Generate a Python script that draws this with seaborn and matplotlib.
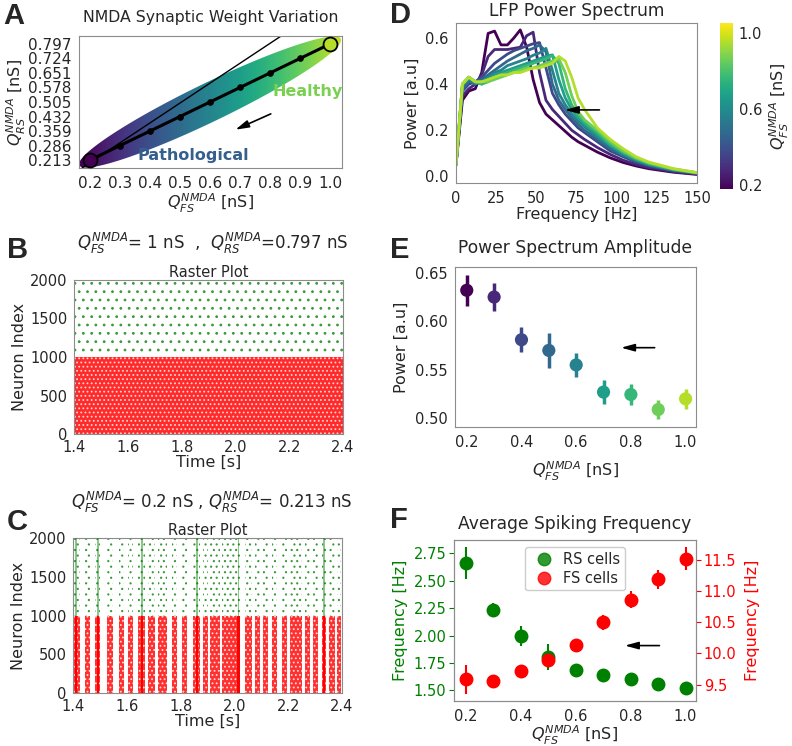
import numpy as np
import pandas as pd
import matplotlib
matplotlib.use("Agg")
import matplotlib.pyplot as plt
import seaborn as sns
from matplotlib.colors import Normalize
from matplotlib.patches import Polygon, Rectangle
from matplotlib.cm import ScalarMappable
from matplotlib.lines import Line2D

# NMDA synaptic weights [nS]
q_fs = [0.2, 0.3, 0.4, 0.5, 0.6, 0.7, 0.8, 0.9, 1.0]
q_rs = [0.213, 0.286, 0.359, 0.432, 0.505, 0.578, 0.651, 0.724, 0.797]

# LFP power spectra, one curve per Q_FS value
freq_hz = [0, 4, 8, 12, 16, 20, 24, 28, 32, 36, 40, 44, 48, 52, 56, 60, 64, 68,
           72, 76, 80, 88, 96, 104, 112, 120, 135, 150]
psd_02 = [0.05, 0.33, 0.37, 0.38, 0.45, 0.62, 0.63, 0.57, 0.57, 0.60, 0.635, 0.56, 0.42, 0.32,
          0.27, 0.245, 0.22, 0.195, 0.17, 0.15, 0.135, 0.105, 0.08, 0.06, 0.045, 0.033, 0.018, 0.008]
psd_03 = [0.05, 0.35, 0.38, 0.40, 0.44, 0.52, 0.55, 0.55, 0.55, 0.555, 0.56, 0.61, 0.625, 0.45,
          0.33, 0.29, 0.26, 0.23, 0.20, 0.18, 0.16, 0.125, 0.095, 0.07, 0.052, 0.038, 0.021, 0.010]
psd_04 = [0.05, 0.37, 0.40, 0.41, 0.43, 0.46, 0.49, 0.51, 0.53, 0.545, 0.555, 0.565, 0.575, 0.58,
          0.47, 0.36, 0.31, 0.27, 0.24, 0.21, 0.19, 0.15, 0.11, 0.085, 0.062, 0.045, 0.025, 0.012]
psd_05 = [0.05, 0.38, 0.41, 0.41, 0.42, 0.44, 0.46, 0.48, 0.50, 0.515, 0.53, 0.545, 0.555, 0.57,
          0.54, 0.40, 0.33, 0.29, 0.255, 0.225, 0.20, 0.16, 0.12, 0.09, 0.067, 0.048, 0.027, 0.013]
psd_06 = [0.05, 0.39, 0.42, 0.40, 0.41, 0.43, 0.45, 0.46, 0.48, 0.49, 0.50, 0.51, 0.525, 0.535,
          0.555, 0.46, 0.36, 0.31, 0.27, 0.24, 0.215, 0.17, 0.13, 0.095, 0.07, 0.051, 0.028, 0.014]
psd_07 = [0.05, 0.40, 0.43, 0.41, 0.40, 0.42, 0.44, 0.45, 0.46, 0.47, 0.48, 0.49, 0.50, 0.51,
          0.52, 0.527, 0.42, 0.34, 0.29, 0.255, 0.225, 0.18, 0.135, 0.10, 0.073, 0.053, 0.029, 0.015]
psd_08 = [0.05, 0.40, 0.43, 0.41, 0.40, 0.41, 0.43, 0.44, 0.45, 0.46, 0.47, 0.48, 0.49, 0.50,
          0.51, 0.524, 0.49, 0.38, 0.31, 0.265, 0.235, 0.19, 0.14, 0.105, 0.077, 0.056, 0.031, 0.015]
psd_09 = [0.05, 0.40, 0.43, 0.41, 0.41, 0.41, 0.42, 0.43, 0.44, 0.45, 0.46, 0.47, 0.47, 0.48,
          0.49, 0.50, 0.51, 0.45, 0.35, 0.28, 0.245, 0.20, 0.15, 0.11, 0.08, 0.058, 0.032, 0.016]
psd_10 = [0.05, 0.40, 0.43, 0.41, 0.41, 0.42, 0.43, 0.44, 0.44, 0.45, 0.45, 0.46, 0.47, 0.47,
          0.48, 0.49, 0.52, 0.50, 0.43, 0.34, 0.29, 0.21, 0.16, 0.12, 0.085, 0.062, 0.034, 0.016]

# peak of the power spectrum
peak_power = [0.632, 0.625, 0.581, 0.570, 0.555, 0.527, 0.5245, 0.509, 0.520]
peak_err = [0.016, 0.014, 0.013, 0.018, 0.012, 0.0125, 0.011, 0.010, 0.0105]

# average spiking frequency
rs_rate = [2.658, 2.237, 1.996, 1.804, 1.689, 1.637, 1.601, 1.555, 1.521]
rs_err = [0.146, 0.061, 0.088, 0.116, 0.03, 0.03, 0.03, 0.03, 0.03]
fs_rate = [9.585, 9.553, 9.714, 9.891, 10.13, 10.50, 10.86, 11.19, 11.52]
fs_err = [0.236, 0.06, 0.10, 0.107, 0.107, 0.12, 0.134, 0.155, 0.188]

# raster plots: population index ranges, time window, population bursts (pathological case)
raster_window = [1.4, 2.4]
fs_index = [0, 1000]
rs_index = [1000, 2000]
burst_time = [1.412, 1.455, 1.492, 1.538, 1.579, 1.615, 1.656, 1.693, 1.734, 1.777, 1.814,
              1.860, 1.893, 1.929, 1.982, 2.015, 2.053, 2.087, 2.116, 2.149, 2.186, 2.230,
              2.273, 2.302, 2.333, 2.364, 2.390]
burst_width = [0.025, 0.018, 0.019, 0.025, 0.018, 0.018, 0.026, 0.026, 0.034, 0.019, 0.019,
               0.026, 0.019, 0.038, 0.056, 0.012, 0.024, 0.018, 0.019, 0.018, 0.019, 0.043,
               0.018, 0.019, 0.014, 0.022, 0.016]
strong_bursts = [1.412, 1.492, 1.656, 1.860, 2.015, 2.333]

sns.set_style("white", {"axes.edgecolor": "0.55"})
plt.rcParams["mathtext.fontset"] = "dejavusans"
plt.rcParams["hatch.linewidth"] = 0.8

fig = plt.figure(figsize=(7.92, 7.46), dpi=100)
W, H = 792.0, 746.0


def box(l, t, r, b):
    return [l / W, 1 - b / H, (r - l) / W, (b - t) / H]


cmap = plt.get_cmap("viridis")
norm = Normalize(0.2, 1.1)
cbar_norm = Normalize(0.18, 1.05)
arrow = dict(arrowstyle="-|>,head_length=0.8,head_width=0.22", color="black", lw=1.2)

# ---------------- A ----------------
axA = fig.add_axes(box(79, 36, 342, 168))
axA.set_xlim(0.163, 1.04)
axA.set_ylim(0.173, 0.837)
p0 = axA.transData.transform((q_fs[0], q_rs[0]))
p1 = axA.transData.transform((q_fs[-1], q_rs[-1]))
c = (p0 + p1) / 2
d = np.linalg.norm(p1 - p0)
u = (p1 - p0) / d
n = np.array([-u[1], u[0]])
th = np.linspace(0, 2 * np.pi, 300)
pts = c + np.outer(np.cos(th) * d * 0.545, u) + np.outer(np.sin(th) * d * 0.072, n)
pts = axA.transAxes.inverted().transform(pts)
lens = Polygon(pts, closed=True, transform=axA.transAxes, facecolor="none", edgecolor="none")
axA.add_patch(lens)
grad = np.linspace(0.163, 1.04, 256)[None, :]
im = axA.imshow(grad, cmap="viridis", norm=Normalize(0.17, 1.12), extent=[0.163, 1.04, 0.173, 0.837],
                aspect="auto", origin="lower", zorder=1)
im.set_clip_path(lens)
axA.axline((0, 0), slope=1, color="black", lw=1, zorder=2)
sns.lineplot(x=q_fs, y=q_rs, ax=axA, color="black", lw=2.2, marker="o", ms=4, mec="black", zorder=3)
for i in (0, -1):
    axA.plot(q_fs[i], q_rs[i], "o", ms=10, mfc=cmap(norm(q_fs[i])), mec="black", mew=1.3, zorder=4)
axA.set_xlim(0.163, 1.04)
axA.set_ylim(0.173, 0.837)
axA.set_xticks(q_fs)
axA.set_xticklabels([f"{q:.1f}" for q in q_fs])
axA.set_yticks(q_rs)
axA.set_yticklabels([f"{q:.3f}" for q in q_rs])
axA.tick_params(labelsize=11, pad=2)
axA.set_xlabel(r"$Q_{FS}^{NMDA}$ [nS]", fontsize=11.5, labelpad=1)
axA.set_ylabel(r"$Q_{RS}^{NMDA}$ [nS]", fontsize=11.5, labelpad=0)
axA.set_title("NMDA Synaptic Weight Variation", fontsize=11.3, pad=10)
axA.text(0.927, 0.557, "Healthy", color="#7ad151", fontsize=11.5, fontweight="bold", ha="center", va="center")
axA.text(0.543, 0.238, "Pathological", color="#35608d", fontsize=11.5, fontweight="bold", ha="center", va="center")
axA.annotate("", xy=(0.676, 0.360), xytext=(0.811, 0.451), arrowprops=arrow)


# ---------------- B and C (raster plots) ----------------
def raster_axes(rect, header, header_y):
    ax = fig.add_axes(box(*rect))
    ax.set_xlim(*raster_window)
    ax.set_ylim(fs_index[0], rs_index[1])
    ax.set_xticks([1.4, 1.6, 1.8, 2.0, 2.2, 2.4])
    ax.set_yticks([0, 500, 1000, 1500, 2000])
    ax.tick_params(labelsize=10.5, pad=1)
    ax.set_title("Raster Plot", fontsize=10.5, pad=2)
    ax.set_ylabel("Neuron Index", fontsize=11.5, labelpad=2)
    ax.set_xlabel("Time [s]", fontsize=11.5, labelpad=0)
    fig.text((rect[0] + rect[2]) / 2 / W + 0.005, 1 - header_y / H, header, fontsize=12,
             ha="center", va="center")
    return ax


t0, t1 = raster_window
axB = raster_axes((74, 280, 343, 434), r"$Q_{FS}^{NMDA}$= 1 nS  ,  $Q_{RS}^{NMDA}$=0.797 nS", 243)
axB.add_patch(Rectangle((t0, fs_index[0]), t1 - t0, fs_index[1] - fs_index[0], facecolor="#ff2a2a",
                        edgecolor="#ffd0d0", hatch="....", lw=0, zorder=1))
axB.add_patch(Rectangle((t0, rs_index[0]), t1 - t0, rs_index[1] - rs_index[0], facecolor="white",
                        edgecolor="#3a9a3a", hatch="..", lw=0, zorder=1))

axC = raster_axes((73, 538, 342, 693), r"$Q_{FS}^{NMDA}$= 0.2 nS , $Q_{RS}^{NMDA}$= 0.213 nS", 502)
for t, w in zip(burst_time, burst_width):
    axC.add_patch(Rectangle((t - w / 2, fs_index[0]), w, fs_index[1] - fs_index[0], facecolor="#ff3030",
                            edgecolor="#ffd8d8", hatch="....", lw=0, zorder=2))
    axC.add_patch(Rectangle((t - w / 2, rs_index[0]), w, rs_index[1] - rs_index[0], facecolor="white",
                            edgecolor="#3a9a3a", hatch="...", lw=0, zorder=2))
for t in strong_bursts:
    axC.add_patch(Rectangle((t - 0.004, fs_index[0]), 0.008, fs_index[1] - fs_index[0],
                            facecolor="red", lw=0, zorder=3))
    axC.add_patch(Rectangle((t - 0.003, rs_index[0]), 0.006, rs_index[1] - rs_index[0],
                            facecolor="green", alpha=0.45, lw=0, zorder=3))

# ---------------- D ----------------
axD = fig.add_axes(box(456, 23, 697, 183))
curves = [psd_02, psd_03, psd_04, psd_05, psd_06, psd_07, psd_08, psd_09, psd_10]
dfD = pd.DataFrame({
    "freq": np.tile(freq_hz, len(q_fs)),
    "power": np.concatenate(curves),
    "q": np.repeat(q_fs, len(freq_hz)),
})
sns.lineplot(data=dfD, x="freq", y="power", hue="q", palette="viridis", hue_norm=norm,
             lw=2, legend=False, ax=axD, sort=False)
axD.set_xlim(0, 150)
axD.set_ylim(-0.029, 0.665)
axD.set_xticks([0, 25, 50, 75, 100, 125, 150])
axD.set_yticks([0.0, 0.2, 0.4, 0.6])
axD.tick_params(labelsize=10.5, pad=2)
axD.set_xlabel("Frequency [Hz]", fontsize=11.5, labelpad=1)
axD.set_ylabel("Power [a.u]", fontsize=11.5, labelpad=4)
axD.set_title("LFP Power Spectrum", fontsize=12.3, pad=5)
axD.annotate("", xy=(66, 0.288), xytext=(91, 0.288), arrowprops=arrow)
cax = fig.add_axes(box(720, 23, 733, 189))
cb = fig.colorbar(ScalarMappable(norm=cbar_norm, cmap=cmap), cax=cax, ticks=[0.2, 0.6, 1.0])
cb.outline.set_visible(False)
cb.ax.tick_params(labelsize=10.5, length=0, pad=4)
cb.set_label(r"$Q_{FS}^{NMDA}$ [nS]", fontsize=11.5, labelpad=4)

# ---------------- E ----------------
axE = fig.add_axes(box(455, 267, 696, 427))
for q, p, e in zip(q_fs, peak_power, peak_err):
    axE.errorbar(q, p, yerr=e, fmt="none", ecolor=cmap(norm(q)), elinewidth=2.5, capsize=0)
sns.scatterplot(x=q_fs, y=peak_power, hue=q_fs, palette="viridis", hue_norm=norm, s=90,
                edgecolor="none", legend=False, ax=axE, zorder=3)
axE.set_xlim(0.157, 1.038)
axE.set_ylim(0.491, 0.656)
axE.set_xticks([0.2, 0.4, 0.6, 0.8, 1.0])
axE.set_yticks([0.50, 0.55, 0.60, 0.65])
axE.set_yticklabels(["0.50", "0.55", "0.60", "0.65"])
axE.tick_params(labelsize=10.5, pad=2)
axE.set_xlabel(r"$Q_{FS}^{NMDA}$ [nS]", fontsize=11.5, labelpad=7)
axE.set_ylabel("Power [a.u]", fontsize=11.5, labelpad=4)
axE.set_title("Power Spectrum Amplitude", fontsize=12.3, pad=10)
axE.annotate("", xy=(0.754, 0.5728), xytext=(0.897, 0.5728), arrowprops=arrow)

# ---------------- F ----------------
axF = fig.add_axes(box(454, 540, 696, 701))
axF.errorbar(q_fs, rs_rate, yerr=rs_err, fmt="o", color="green", ms=9, elinewidth=1.5, capsize=0)
axF.set_xlim(0.157, 1.038)
axF.set_ylim(1.402, 2.872)
axF.set_xticks([0.2, 0.4, 0.6, 0.8, 1.0])
axF.set_yticks([1.5, 1.75, 2.0, 2.25, 2.5, 2.75])
axF.set_yticklabels(["1.50", "1.75", "2.00", "2.25", "2.50", "2.75"])
axF.tick_params(labelsize=10.5, pad=2)
axF.tick_params(axis="y", colors="green")
axF.set_xlabel(r"$Q_{FS}^{NMDA}$ [nS]", fontsize=11.5, labelpad=0)
axF.set_ylabel("Frequency [Hz]", fontsize=11.5, color="green", labelpad=4)
axF.set_title("Average Spiking Frequency", fontsize=12.3, pad=8)
axF.annotate("", xy=(0.769, 1.908), xytext=(0.915, 1.908), arrowprops=arrow)
axF2 = axF.twinx()
axF2.errorbar(q_fs, fs_rate, yerr=fs_err, fmt="o", color="red", ms=9, elinewidth=1.5, capsize=0)
axF2.set_ylim(9.236, 11.82)
axF2.set_yticks([9.5, 10.0, 10.5, 11.0, 11.5])
axF2.tick_params(axis="y", colors="red", labelsize=10.5, pad=2)
axF2.set_ylabel("Frequency [Hz]", fontsize=11.5, color="red", labelpad=6)
handles = [Line2D([], [], ls="none", marker="o", ms=9, color="green", alpha=0.8),
           Line2D([], [], ls="none", marker="o", ms=9, color="red", alpha=0.8)]
axF2.legend(handles, ["RS cells", "FS cells"], loc="upper center", fontsize=10.5,
            handletextpad=0.3, borderpad=0.3, labelspacing=0.3, framealpha=1)

# panel letters
for letter, x, y in [("A", 3, 2), ("B", 7, 236), ("C", 7, 508),
                     ("D", 390, 1), ("E", 390, 236), ("F", 390, 506)]:
    fig.text(x / W, 1 - y / H, letter, fontsize=21, fontweight="bold",
             family=["Liberation Sans", "DejaVu Sans"], ha="left", va="top")

fig.savefig("out.png", dpi=100)
